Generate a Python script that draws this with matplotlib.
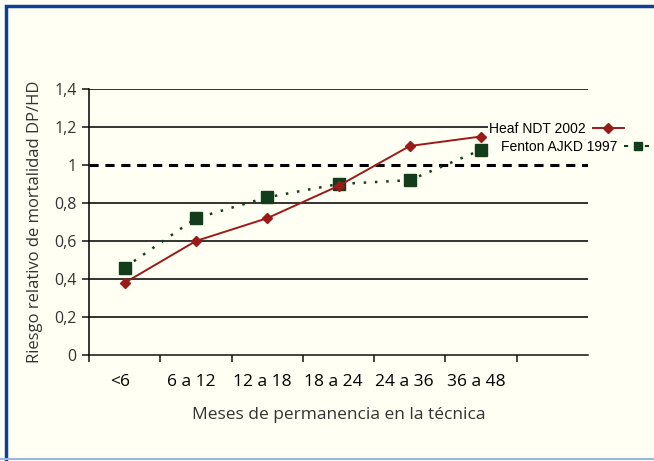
import matplotlib
matplotlib.use("Agg")
import matplotlib.pyplot as plt
from matplotlib.patches import Rectangle
from matplotlib.lines import Line2D

categorias = ["<6", "6 a 12", "12 a 18", "18 a 24", "24 a 36", "36 a 48"]
heaf = [0.38, 0.60, 0.72, 0.89, 1.10, 1.15]
fenton = [0.46, 0.72, 0.83, 0.90, 0.92, 1.08]
yticks = [0, 0.2, 0.4, 0.6, 0.8, 1.0, 1.2, 1.4]
ytick_labels = ["0", "0,2", "0,4", "0,6", "0,8", "1", "1,2", "1,4"]

BG = "#fffff3"
RED = "#9a1a1a"
GREEN = "#113d1c"

fig = plt.figure(figsize=(6.54, 4.61), dpi=100, facecolor=BG)
# marco azul
fig.patches.append(Rectangle((6 / 654, -0.01), 1.0, 1 - 6 / 461 + 0.01, transform=fig.transFigure,
                             fill=False, edgecolor="#0c3f98", lw=2.5))
fig.patches.append(Rectangle((0, 2 / 461), 1, 0, transform=fig.transFigure,
                             fill=False, edgecolor="#9bb5e0", lw=1.5))

ax = fig.add_axes([89 / 654, 1 - 355 / 461, (588 - 89) / 654, (355 - 89) / 461])
ax.set_facecolor(BG)
x = list(range(len(categorias)))

# rejilla
for v in yticks:
    if v == 1.0:
        ax.axhline(v, color="black", lw=2.2, ls=(0, (3, 2.2)), zorder=1)
    elif v > 0:
        ax.axhline(v, color="#111111", lw=1.2, zorder=1)

ax.plot(x, fenton, ls=(0, (1, 3.5)), lw=1.8, color=GREEN, marker="s", ms=8,
        mfc=GREEN, mec=GREEN, zorder=3)
ax.plot(x, heaf, ls="-", lw=1.4, color=RED, marker="D", ms=5.5,
        mfc=RED, mec=RED, zorder=4)

ax.set_xlim(-0.5, 6.5)
ax.set_ylim(0, 1.4)
ax.set_yticks(yticks)
ax.set_yticklabels(ytick_labels)
ax.set_xticks([i - 0.5 for i in range(len(categorias) + 1)])
ax.set_xticklabels([])
ax.set_xticks([i - 0.07 for i in x], minor=True)
ax.set_xticklabels(categorias, minor=True)
ax.tick_params(axis="x", which="minor", length=0, pad=14, labelsize=12.5)
ax.tick_params(axis="both", which="major", length=5, width=1.1, color="#111111")
ax.tick_params(labelcolor="#333333")
ax.tick_params(axis="y", pad=4, labelsize=11.5)
for lab in ax.get_xticklabels(minor=True) + ax.get_yticklabels():
    lab.set_family("Open Sans")

for s in ["top", "right"]:
    ax.spines[s].set_visible(False)
ax.spines["left"].set_linewidth(1.1)
ax.spines["bottom"].set_linewidth(1.1)
ax.spines["bottom"].set_color("#111111")

ax.set_ylabel("Riesgo relativo de mortalidad DP/HD", fontsize=12, family="Open Sans",
              color="#333333", labelpad=8)
ax.set_xlabel("Meses de permanencia en la técnica", fontsize=12.5, family="Open Sans",
              color="#333333", labelpad=12)

# leyenda (texto a la izquierda, símbolo a la derecha)
h1 = Line2D([], [], color=RED, lw=1.4, marker="D", ms=5)
h2 = Line2D([], [], color=GREEN, lw=1.5, ls=(0, (2, 3)), marker="s", ms=6)
leg_kw = dict(markerfirst=False, frameon=True, facecolor=BG, edgecolor="none", framealpha=1,
              fancybox=False, loc="center right", borderpad=0.1,
              prop={"family": "Liberation Sans", "size": 10}, handletextpad=0.5)
leg1 = fig.legend([h1], ["Heaf NDT 2002"], bbox_to_anchor=(632 / 654, 1 - 129 / 461),
                  handlelength=2.2, **leg_kw)
leg2 = fig.legend([h2], ["Fenton AJKD 1997"], bbox_to_anchor=(660 / 654, 1 - 147 / 461),
                  handlelength=2.0, **leg_kw)
fig.add_artist(leg1)

fig.savefig("out.png", dpi=100, facecolor=BG)
